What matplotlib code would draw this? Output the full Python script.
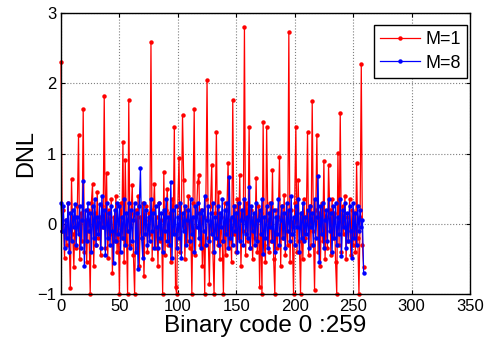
import numpy as np
import matplotlib
matplotlib.use("Agg")
import matplotlib.pyplot as plt

# DNL per code, M=1 (red) and M=8 (blue)
dnl_m1 = [
    2.30, -0.10, 0.20, -0.49, 0.05, -0.30, 0.30, -0.20, -0.92, 0.64,
    -0.15, -0.61, 0.10, -0.35, 0.25, 1.26, -0.50, 0.15, -0.25, 1.63,
    -0.40, 0.05, -0.55, 0.20, -0.10, -1.00, 0.30, 0.57, -0.60, 0.15,
    -0.30, 0.45, -0.20, 0.10, -0.45, 0.25, -0.05, 1.82, -0.35, 0.72,
    -0.48, 0.20, -0.15, 0.35, -0.70, 0.10, -0.25, 0.40, -0.40, 0.05,
    -1.00, 0.30, -0.20, 1.16, -0.55, 0.91, -0.10, -1.00, 1.76, -0.30,
    0.15, 0.55, -0.45, -1.00, 0.20, -0.35, 0.40, -0.60, 0.10, -0.20,
    0.30, -0.75, 0.05, 0.25, -0.40, 0.15, -0.15, 2.59, -0.50, 0.20,
    0.57, -0.35, 0.10, -0.60, 0.30, -0.25, 0.05, -1.00, 0.74, -0.45,
    0.20, 0.50, -0.30, 0.15, -0.55, 0.35, -0.10, 1.38, -0.90, -1.00,
    0.25, 0.93, -0.40, 0.10, 1.55, 0.63, -0.50, 0.20, -0.25, 0.40,
    -0.35, 0.05, -1.00, 0.30, 1.63, -0.45, 0.15, 0.59, 0.70, -0.30,
    0.20, -0.60, 0.10, -1.00, 0.35, 2.05, -0.20, -0.85, 0.25, 0.84,
    -0.40, -1.00, 0.15, 1.31, -0.30, 0.45, -0.50, 0.10, -0.25, -1.00,
    0.30, -0.45, 0.20, 0.87, -0.35, 0.05, -0.55, 1.76, -0.15, 0.25,
    -0.40, 0.35, -0.20, 0.70, -0.60, 0.15, -0.10, 2.80, -0.45, 0.30,
    -0.25, 1.38, -0.35, 0.20, -0.50, 0.10, -0.20, 0.65, -0.40, 0.25,
    -0.90, 0.15, -1.00, 1.45, -0.30, -0.55, 1.38, 0.05, -0.40, 0.30,
    -0.25, 0.76, -0.50, -1.00, 0.20, -0.35, 0.10, 0.95, -0.60, 0.25,
    -0.20, 0.41, -0.45, 0.15, -0.30, 2.73, -0.55, 0.20, -0.15, -1.00,
    0.30, 1.38, -0.40, 0.63, -0.25, -1.00, 0.15, -0.50, 0.35, -0.20,
    0.10, 1.30, -0.45, 0.25, -0.30, 1.75, -0.10, -0.94, 0.20, 1.26,
    -0.40, 0.15, -0.60, 0.30, -0.25, 0.90, -0.50, 0.10, -0.35, 0.83,
    0.20, -0.45, 0.35, -0.20, 0.15, -0.55, -1.00, 1.01, -0.30, 1.58,
    -0.40, 0.25, -0.15, 0.40, -0.50, 0.10, -0.25, 0.35, -0.45, 0.20,
    -0.30, 0.15, -0.40, 0.86, -0.20, -1.00, 0.10, 2.27, -0.30, -0.62,
]

dnl_m8 = [
    0.29, -0.10, 0.25, -0.35, 0.05, -0.20, 0.30, -0.40, 0.15, -0.25,
    0.20, -0.05, 0.28, -0.30, 0.10, -0.15, 0.25, -0.35, 0.05, 0.61,
    -0.60, 0.20, -0.25, 0.30, -0.10, 0.15, -0.40, 0.25, -0.20, 0.35,
    -0.30, 0.10, -0.15, 0.28, -0.35, 0.40, -0.05, 0.20, -0.45, 0.30,
    -0.20, 0.15, -0.30, 0.25, -0.10, -0.56, 0.20, -0.25, 0.30, -0.15,
    0.25, -0.40, 0.10, -0.20, 0.35, -0.30, 0.15, -0.10, 0.30, -0.35,
    0.20, -0.25, 0.05, 0.30, -0.40, 0.15, -0.65, 0.25, 0.79, -0.20,
    -0.49, 0.30, -0.15, 0.20, -0.30, 0.10, -0.25, 0.35, -0.10, 0.15,
    -0.35, 0.25, -0.05, -0.34, 0.30, -0.20, 0.15, -0.40, 0.20, -0.10,
    0.35, -0.25, 0.10, -0.30, 0.59, -0.49, 0.20, -0.15, 0.25, -0.35,
    0.10, -0.20, 0.30, -0.48, 0.15, -0.10, 0.25, -0.30, 0.05, 0.20,
    -0.25, 0.35, -0.15, 0.10, -0.40, 0.25, -0.05, 0.30, -0.20, 0.15,
    -0.35, 0.20, -0.10, 0.40, -0.30, 0.05, 0.25, -0.25, 0.15, -0.15,
    0.30, -0.40, 0.10, -0.20, 0.25, -0.30, 0.15, -0.05, 0.35, -0.25,
    0.20, -0.15, 0.30, -0.35, 0.67, -0.20, 0.10, -0.30, 0.25, -0.10,
    0.15, -0.40, 0.30, -0.25, 0.05, 0.20, -0.30, 0.35, -0.15, 0.10,
    -0.20, 0.52, -0.35, 0.25, -0.10, 0.15, -0.30, 0.30, -0.25, 0.05,
    0.20, -0.15, 0.35, -0.43, 0.10, -0.20, 0.25, -0.35, 0.15, -0.05,
    0.30, -0.25, 0.20, -0.40, 0.10, -0.15, 0.35, -0.30, 0.05, 0.25,
    -0.20, 0.15, -0.35, 0.30, -0.10, 0.20, -0.25, 0.40, -0.15, 0.10,
    -0.30, 0.25, -0.05, 0.35, -0.40, 0.15, -0.20, 0.30, -0.25, 0.10,
    -0.15, 0.20, -0.35, 0.25, -0.05, 0.15, -0.30, 0.35, -0.20, 0.10,
    0.68, -0.55, 0.25, -0.15, 0.30, -0.35, 0.05, 0.20, -0.25, 0.35,
    -0.10, 0.15, -0.40, 0.25, -0.20, 0.30, -0.30, 0.10, -0.15, 0.35,
    -0.46, 0.20, -0.05, 0.30, -0.35, 0.15, -0.25, 0.25, -0.10, -0.48,
    0.30, -0.20, 0.15, -0.30, 0.25, -0.10, 0.20, -0.05, 0.05, -0.70,
]

codes = np.arange(len(dnl_m1))
x_ticks = [0, 50, 100, 150, 200, 250, 300, 350]
y_ticks = [-1, 0, 1, 2, 3]

plt.rcParams['font.family'] = ['Liberation Sans', 'DejaVu Sans']

fig = plt.figure(figsize=(4.88, 3.53), dpi=100)
ax = fig.add_axes([0.125, 0.167, 0.838, 0.796])

ax.plot(codes, dnl_m1, '-', color='red', lw=0.9, marker='o', markersize=3.2,
        markeredgewidth=0, label='M=1', clip_on=False)
ax.plot(codes, dnl_m8, '-', color='blue', lw=0.9, marker='o', markersize=3.2,
        markeredgewidth=0, label='M=8', clip_on=False)

ax.set_xlim(0, 350)
ax.set_ylim(-1, 3)
ax.set_xticks(x_ticks)
ax.set_yticks(y_ticks)
ax.grid(True, color='#7f7f7f', linestyle=':', lw=0.8)
ax.tick_params(direction='in', top=True, right=True, labelsize=12,
               length=3, width=0.8)
for s in ax.spines.values():
    s.set_linewidth(1.0)

ax.set_xlabel('Binary code 0 :259', fontsize=17.5, labelpad=1)
ax.set_ylabel('DNL', fontsize=17, labelpad=0)

leg = ax.legend(loc='upper right', bbox_to_anchor=(0.993, 0.957),
                fontsize=13, fancybox=False, edgecolor='black', framealpha=1,
                handlelength=2.2, handletextpad=0.3, borderaxespad=0,
                borderpad=0.35, labelspacing=0.35)
leg.get_frame().set_linewidth(1.0)

fig.savefig('out.png', dpi=100)
